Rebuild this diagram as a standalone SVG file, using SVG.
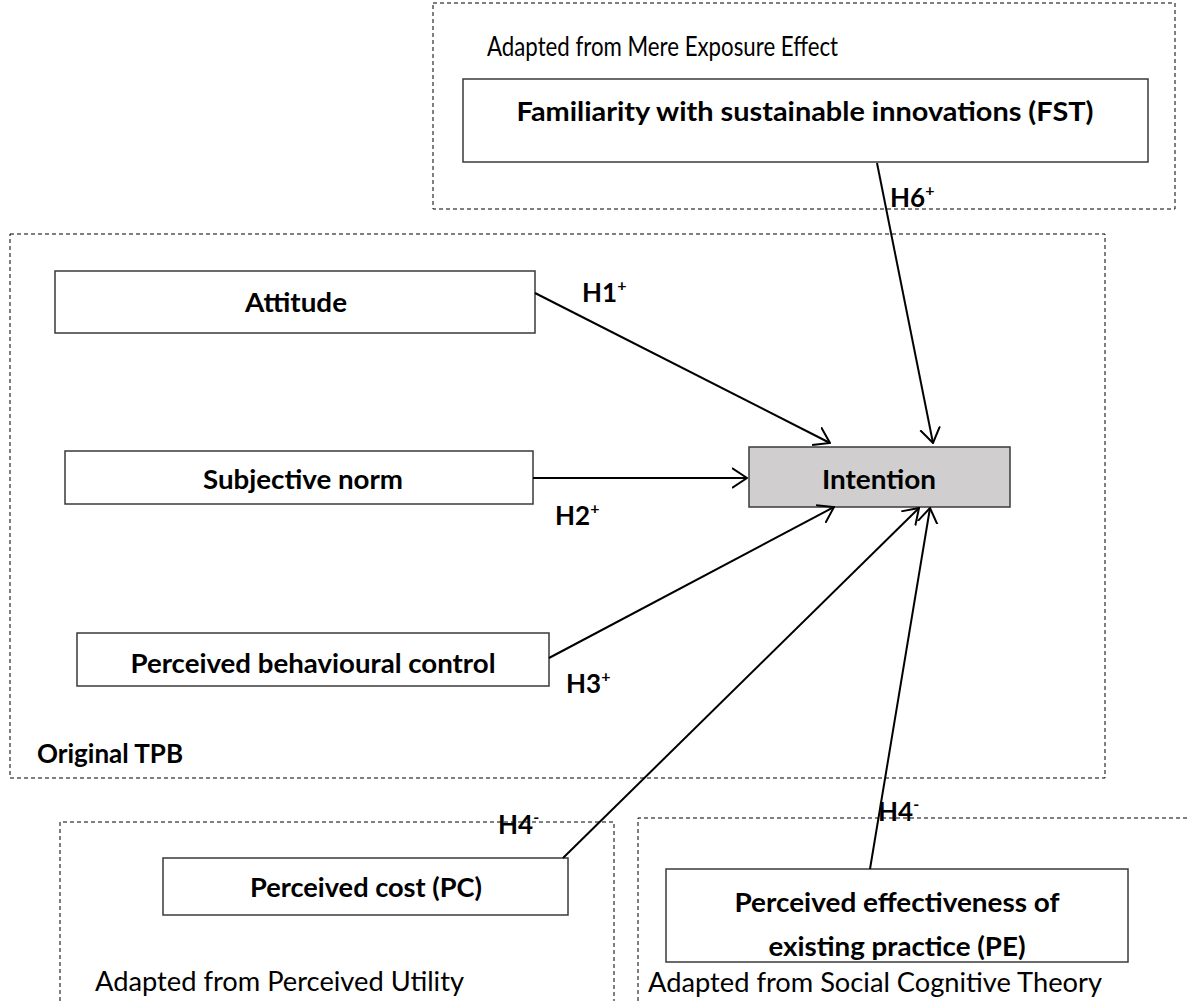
<svg xmlns="http://www.w3.org/2000/svg" width="1190" height="1002" viewBox="0 0 1190 1002">
<style>
.bg{fill:#fff}
.dash{fill:none;stroke:#000;stroke-width:1;stroke-dasharray:4,3}
.node{fill:#fff;stroke:#3a3a3a;stroke-width:1.5}
.grey{fill:#d0cece;stroke:#3a3a3a;stroke-width:1.5}
.b{font-family:Lato,"Open Sans","Liberation Sans",sans-serif;font-weight:bold;font-size:27px;fill:#000}
.r{font-family:Lato,"Open Sans","Liberation Sans",sans-serif;font-size:27px;fill:#000}
.h{font-family:Lato,"Open Sans","Liberation Sans",sans-serif;font-weight:bold;font-size:26px;fill:#000}
.sup{font-size:16px}
.conn{stroke:#000;stroke-width:2;fill:none;marker-end:url(#arr)}
</style>
<defs>
<marker id="arr" viewBox="0 0 16 22" refX="15" refY="11" markerWidth="16" markerHeight="22" markerUnits="userSpaceOnUse" orient="auto">
<path d="M0,1 L15,11 L0,21" fill="none" stroke="#000" stroke-width="2"/>
</marker>
<clipPath id="peclip"><rect x="666" y="869" width="462" height="93"/></clipPath>
</defs>
<rect class="bg" x="0" y="0" width="1190" height="1002"/>

<g id="group-mere-exposure">
<rect class="dash" x="433" y="3" width="742" height="206"/>
<text class="r" x="487" y="56" textLength="351" lengthAdjust="spacingAndGlyphs">Adapted from Mere Exposure Effect</text>
</g>
<g id="group-tpb">
<rect class="dash" x="10" y="234" width="1095" height="544"/>
<text class="b" x="37" y="763" textLength="146" lengthAdjust="spacingAndGlyphs">Original TPB</text>
</g>
<g id="group-perceived-utility">
<path class="dash" d="M60,1001 V822 H614 V1001"/>
<text class="r" x="95" y="991" textLength="369" lengthAdjust="spacingAndGlyphs">Adapted from Perceived Utility</text>
</g>
<g id="group-social-cognitive">
<path class="dash" d="M638,1001 V818 H1190"/>
<text class="r" x="648" y="992" textLength="454" lengthAdjust="spacingAndGlyphs">Adapted from Social Cognitive Theory</text>
</g>

<g id="node-fst">
<rect class="node" x="463" y="79" width="685" height="83"/>
<text class="b" x="805" y="121" text-anchor="middle" textLength="577" lengthAdjust="spacingAndGlyphs">Familiarity with sustainable innovations (FST)</text>
</g>
<g id="node-attitude">
<rect class="node" x="55" y="271" width="480" height="62"/>
<text class="b" x="296" y="312" text-anchor="middle" textLength="102" lengthAdjust="spacingAndGlyphs">Attitude</text>
</g>
<g id="node-subjective-norm">
<rect class="node" x="65" y="451" width="468" height="53"/>
<text class="b" x="303" y="489" text-anchor="middle" textLength="200" lengthAdjust="spacingAndGlyphs">Subjective norm</text>
</g>
<g id="node-pbc">
<rect class="node" x="77" y="633" width="472" height="53"/>
<text class="b" x="313" y="673" text-anchor="middle" textLength="365" lengthAdjust="spacingAndGlyphs">Perceived behavioural control</text>
</g>
<g id="node-intention">
<rect class="grey" x="749" y="447" width="261" height="60"/>
<text class="b" x="879" y="489" text-anchor="middle" textLength="114" lengthAdjust="spacingAndGlyphs">Intention</text>
</g>
<g id="node-pc">
<rect class="node" x="163" y="858" width="405" height="57"/>
<text class="b" x="366" y="897" text-anchor="middle" textLength="232" lengthAdjust="spacingAndGlyphs">Perceived cost (PC)</text>
</g>
<g id="node-pe">
<rect class="node" x="666" y="869" width="462" height="93"/>
<g clip-path="url(#peclip)">
<text class="b" x="897" y="912" text-anchor="middle" textLength="325" lengthAdjust="spacingAndGlyphs">Perceived effectiveness of</text>
<text class="b" x="897" y="956" text-anchor="middle" textLength="257" lengthAdjust="spacingAndGlyphs">existing practice (PE)</text>
</g>
</g>

<g id="connectors">
<line class="conn" x1="535" y1="293" x2="830" y2="443"/>
<line class="conn" x1="533" y1="478" x2="747" y2="478"/>
<line class="conn" x1="549" y1="658" x2="834" y2="507"/>
<line class="conn" x1="877" y1="163" x2="933" y2="443"/>
<line class="conn" x1="563" y1="858" x2="919" y2="508"/>
<line class="conn" x1="870" y1="869" x2="930" y2="508"/>
</g>

<g id="labels">
<text class="h" x="582" y="302">H1<tspan class="sup" dy="-11">+</tspan></text>
<text class="h" x="555" y="525">H2<tspan class="sup" dy="-11">+</tspan></text>
<text class="h" x="566" y="693">H3<tspan class="sup" dy="-11">+</tspan></text>
<text class="h" x="890" y="207">H6<tspan class="sup" dy="-11">+</tspan></text>
<text class="h" x="498" y="834">H4<tspan class="sup" dy="-11">-</tspan></text>
<text class="h" x="878" y="821">H4<tspan class="sup" dy="-11">-</tspan></text>
</g>
</svg>
